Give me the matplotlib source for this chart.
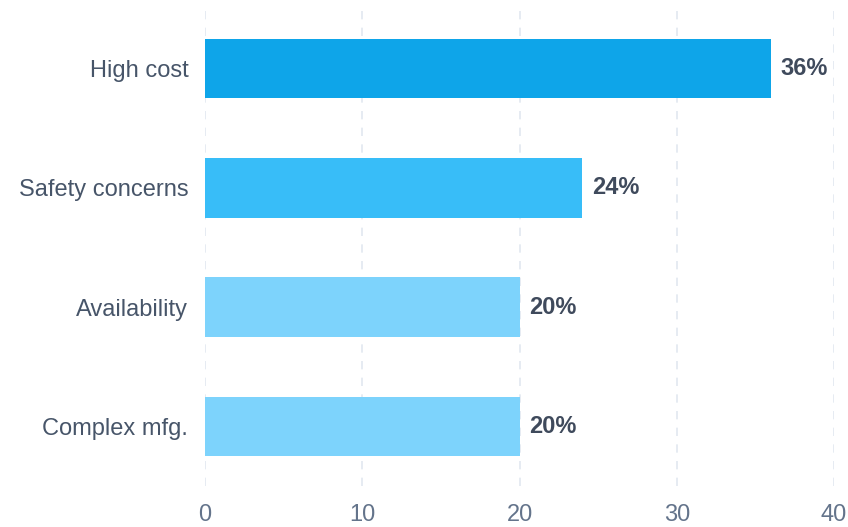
import matplotlib
matplotlib.use("Agg")
import matplotlib.pyplot as plt
import numpy as np

# data
categories = ["High cost", "Safety concerns", "Availability", "Complex mfg."]
values = [36, 24, 20, 20]
bar_colors = ["#0ea5e9", "#38bdf8", "#7dd3fc", "#7dd3fc"]
x_ticks = [0, 10, 20, 30, 40]

plt.rcParams['font.family'] = ['Liberation Sans', 'DejaVu Sans']

fig = plt.figure(figsize=(8.48, 5.27), dpi=100)
ax = fig.add_axes([205/848, 1-486/527, (834-205)/848, (486-9)/527])

y = np.arange(len(categories))
bars = ax.barh(y, values, height=0.5, color=bar_colors, zorder=3)

for b, v in zip(bars, values):
    ax.annotate(f"{v}%", (b.get_width(), b.get_y() + b.get_height()/2),
                xytext=(7, 0), textcoords="offset points",
                va="center", ha="left", fontsize=17, fontweight="bold",
                color="#3f4a5c")

ax.set_xlim(0, 40)
ax.set_ylim(3.5, -0.5)
ax.set_xticks(x_ticks)
ax.set_yticks(y)
ax.set_yticklabels(categories)
ax.tick_params(axis="y", length=0, pad=12, labelsize=17, labelcolor="#475569")
ax.tick_params(axis="x", length=0, pad=13, labelsize=17, labelcolor="#64748b")

ax.grid(axis="x", linestyle=(0, (5, 5)), color="#e2e8f0", linewidth=1.2, zorder=0)
ax.grid(axis="y", visible=False)
for s in ax.spines.values():
    s.set_visible(False)

fig.savefig("out.png", dpi=100)
